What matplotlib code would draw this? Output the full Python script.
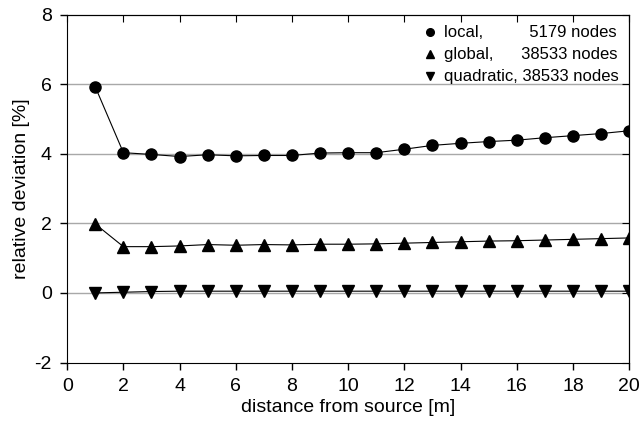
import numpy as np
import matplotlib
matplotlib.use("Agg")
import matplotlib.pyplot as plt
from matplotlib.lines import Line2D

plt.rcParams['font.family'] = ['Liberation Sans', 'DejaVu Sans']
plt.rcParams['font.size'] = 14

# data
distance = np.arange(1, 21)
local = [5.92, 4.03, 3.98, 3.92, 3.97, 3.94, 3.95, 3.95, 4.02, 4.03,
         4.03, 4.13, 4.24, 4.30, 4.35, 4.39, 4.46, 4.52, 4.58, 4.66]
global_ = [1.98, 1.33, 1.33, 1.35, 1.39, 1.37, 1.39, 1.38, 1.40, 1.40,
           1.41, 1.43, 1.45, 1.47, 1.49, 1.50, 1.52, 1.54, 1.56, 1.58]
quadratic = [0.00, 0.02, 0.04, 0.05, 0.05, 0.05, 0.05, 0.05, 0.05, 0.05,
             0.05, 0.05, 0.05, 0.05, 0.05, 0.05, 0.05, 0.05, 0.05, 0.05]

labels = ["local,          5179 nodes",
          "global,      38533 nodes",
          "quadratic, 38533 nodes"]
markers = ['o', '^', 'v']

fig = plt.figure(figsize=(6.4, 4.28), dpi=100)
ax = fig.add_axes([0.105, 0.153, 0.878, 0.813])

for y, m in zip([local, global_, quadratic], markers):
    ax.plot(distance, y, color='black', lw=0.8, marker=m, markersize=8)

ax.set_xlim(0, 20)
ax.set_ylim(-2, 8)
ax.set_xticks(np.arange(0, 21, 2))
ax.set_yticks([-2, 0, 2, 4, 6, 8])
ax.set_yticklabels(['-2', '0', '2', '4', '6', '8'])
for y in [0, 2, 4, 6]:
    ax.axhline(y, color='#a8a8a8', lw=1, zorder=0)

ax.tick_params(direction='out', length=5, width=1, pad=6)
# top/right ticks point inward
ax2 = ax.secondary_xaxis('top')
ax2.set_xticks(np.arange(0, 21, 2))
ax2.tick_params(direction='in', length=5, labeltop=False)
ax3 = ax.secondary_yaxis('right')
ax3.set_yticks([-2, 0, 2, 4, 6, 8])
ax3.tick_params(direction='in', length=5, labelright=False)

ax.set_xlabel("distance from source [m]", labelpad=3)
ax.set_ylabel("relative deviation [%]", labelpad=3)

handles = [Line2D([], [], color='black', marker=m, linestyle='none', markersize=5.5)
           for m in markers]
ax.legend(handles, labels, loc='upper right', frameon=False,
          handlelength=0.8, handletextpad=0.4, labelspacing=0.42,
          borderaxespad=0.35, borderpad=0.3, fontsize=12)

fig.savefig("out.png", dpi=100)
